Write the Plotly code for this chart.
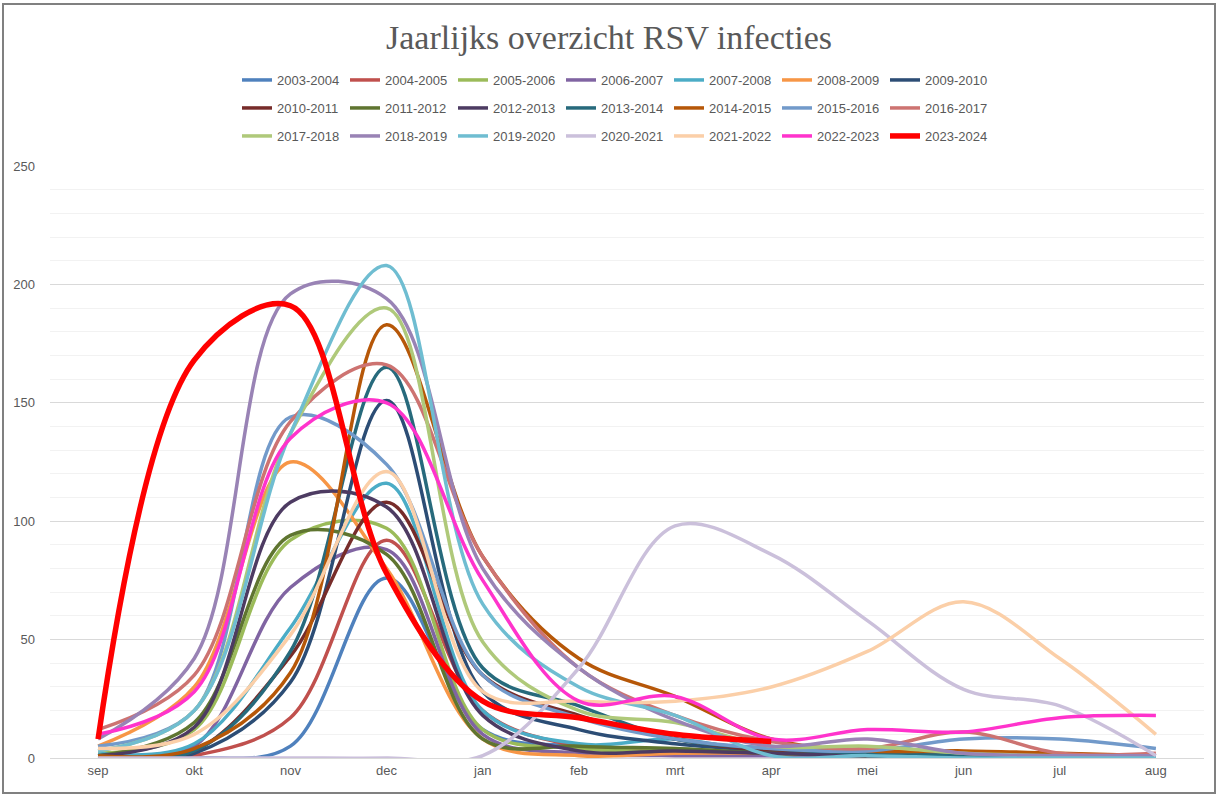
import plotly.graph_objects as go

months = ["sep", "okt", "nov", "dec", "jan", "feb", "mrt", "apr", "mei", "jun", "jul", "aug"]

seasons = ["2003-2004", "2004-2005", "2005-2006", "2006-2007", "2007-2008", "2008-2009", "2009-2010",
           "2010-2011", "2011-2012", "2012-2013", "2013-2014", "2014-2015", "2015-2016", "2016-2017",
           "2017-2018", "2018-2019", "2019-2020", "2020-2021", "2021-2022", "2022-2023", "2023-2024"]

s2003_2004 = [0, 0, 5, 76, 12, 5, 3, 2, 1, 1, 1, 1]
s2004_2005 = [0, 1, 17, 92, 20, 5, 3, 2, 2, 2, 1, 1]
s2005_2006 = [2, 12, 92, 97, 12, 4, 3, 3, 3, 1, 1, 1]
s2006_2007 = [2, 5, 72, 88, 10, 2, 1, 1, 1, 1, 1, 1]
s2007_2008 = [2, 6, 55, 116, 20, 6, 8, 2, 2, 1, 1, 1]
s2008_2009 = [5, 30, 125, 80, 8, 1, 2, 2, 1, 1, 1, 1]
s2009_2010 = [0, 2, 32, 151, 28, 12, 6, 3, 1, 1, 1, 1]
s2010_2011 = [0, 3, 43, 108, 35, 18, 8, 3, 2, 1, 1, 1]
s2011_2012 = [1, 15, 94, 86, 8, 5, 4, 2, 1, 1, 1, 1]
s2012_2013 = [1, 13, 108, 106, 18, 3, 3, 2, 1, 1, 1, 1]
s2013_2014 = [1, 3, 45, 165, 38, 22, 8, 4, 2, 1, 1, 1]
s2014_2015 = [1, 4, 36, 183, 85, 42, 26, 8, 3, 3, 2, 1]
s2015_2016 = [5, 20, 144, 124, 35, 17, 8, 4, 3, 8, 8, 4]
s2016_2017 = [12, 35, 142, 166, 85, 38, 18, 7, 4, 11, 2, 2]
s2017_2018 = [3, 20, 137, 190, 49, 20, 15, 5, 5, 2, 1, 1]
s2018_2019 = [8, 42, 196, 194, 80, 38, 16, 5, 8, 2, 1, 1]
s2019_2020 = [3, 20, 137, 208, 65, 30, 18, 1, 1, 0, 0, 0]
s2020_2021 = [0, 0, 0, 0, 1, 38, 98, 86, 58, 29, 22, 1]
s2021_2022 = [4, 10, 52, 121, 28, 24, 24, 30, 45, 66, 42, 10]
s2022_2023 = [10, 28, 135, 150, 75, 24, 26, 8, 12, 11, 17, 18]
s2023_2024 = [8, 168, 191, 78, 24, 17, 10, 7, None, None, None, None]

series = [s2003_2004, s2004_2005, s2005_2006, s2006_2007, s2007_2008, s2008_2009, s2009_2010,
          s2010_2011, s2011_2012, s2012_2013, s2013_2014, s2014_2015, s2015_2016, s2016_2017,
          s2017_2018, s2018_2019, s2019_2020, s2020_2021, s2021_2022, s2022_2023, s2023_2024]

colors = ["#4F81BD", "#C0504D", "#9BBB59", "#8064A2", "#4BACC6", "#F79646", "#2C4D75",
          "#772C2A", "#5F7530", "#4D3B62", "#276A7C", "#B65708", "#729ACA", "#CD7371",
          "#AFC97A", "#9983B5", "#6FBDD1", "#CBC0DB", "#FBCFA8", "#FF33CC", "#FF0000"]

W, H = 1218, 795
ML, MR, MT, MB = 50, 14, 166, 37
PW, PH = W - ML - MR, H - MT - MB

def px_x(x):
    return (x - ML) / PW

def px_y(y):
    return (H - MB - y) / PH

fig = go.Figure()
legend_ids = ["legend", "legend2", "legend3"]
for i, (name, vals, col) in enumerate(zip(seasons, series, colors)):
    fig.add_trace(go.Scatter(
        x=months, y=vals, name=name, mode="lines",
        line=dict(color=col, width=5.5 if name == "2023-2024" else 3.5, shape="spline", smoothing=1.0),
        legend=legend_ids[i // 7],
        connectgaps=False,
    ))

font_c = "#595959"
leg_common = dict(orientation="h", xanchor="center", yanchor="middle", x=px_x(615),
                  font=dict(family="Liberation Sans, Arial, sans-serif", size=13, color=font_c),
                  entrywidth=63, entrywidthmode="pixels", bgcolor="rgba(0,0,0,0)",
                  tracegroupgap=0, itemwidth=30)

fig.update_layout(
    width=W, height=H,
    margin=dict(l=ML, r=MR, t=MT, b=MB),
    paper_bgcolor="white", plot_bgcolor="white",
    title=dict(text="Jaarlijks overzicht RSV infecties", x=0.5, xanchor="center",
               y=1 - 37 / H, yanchor="middle", yref="container",
               font=dict(family="Liberation Serif, DejaVu Serif, serif", size=34, color=font_c)),
    legend=dict(y=px_y(80), **leg_common),
    legend2=dict(y=px_y(108), **leg_common),
    legend3=dict(y=px_y(136), **leg_common),
    xaxis=dict(type="category", showgrid=False, showline=True, linecolor="#D9D9D9", linewidth=1,
               ticks="", tickfont=dict(family="Liberation Sans, Arial, sans-serif", size=13, color=font_c),
               range=[-0.5, 11.5], fixedrange=True),
    yaxis=dict(range=[0, 250], tick0=0, dtick=50, showgrid=True, gridcolor="#D9D9D9", gridwidth=1,
               zeroline=False, showline=False, ticks="",
               tickfont=dict(family="Liberation Sans, Arial, sans-serif", size=13, color=font_c),
               ticklabelstandoff=14,
               minor=dict(dtick=10, showgrid=True, gridcolor="#F2F2F2", gridwidth=1)),
    shapes=[dict(type="rect", xref="paper", yref="paper",
                 x0=px_x(3), x1=px_x(1215), y0=px_y(793), y1=px_y(4),
                 line=dict(color="#808080", width=2), fillcolor="rgba(0,0,0,0)", layer="below")],
    showlegend=True,
)

fig.write_html("out.html", config={"displayModeBar": False},
               post_script="document.body.style.margin='0';")
